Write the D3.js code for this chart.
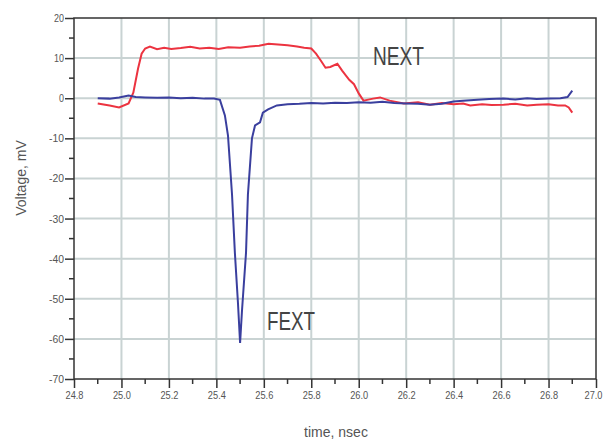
<!DOCTYPE html>
<html>
<head>
<meta charset="utf-8">
<script src="https://cdn.jsdelivr.net/npm/d3@7"></script>
<style>
  body { margin: 0; background: #fff; }
  svg { display: block; }
  .tick text { font-family: "Liberation Sans", Arial, sans-serif; fill: #555; }
</style>
</head>
<body>
<svg id="chart" width="606" height="443"></svg>
<script>
// NEXT (red) trace
var nextTime = [24.90, 24.95, 24.99, 25.03, 25.05, 25.07, 25.085, 25.10, 25.12, 25.15, 25.18, 25.21, 25.25, 25.29, 25.33, 25.37, 25.41, 25.45, 25.50, 25.54, 25.58, 25.62, 25.66, 25.70, 25.74, 25.77, 25.80, 25.82, 25.84, 25.86, 25.88, 25.91, 25.93, 25.96, 25.98, 26.00, 26.02, 26.06, 26.09, 26.13, 26.19, 26.25, 26.30, 26.35, 26.40, 26.44, 26.47, 26.52, 26.56, 26.61, 26.66, 26.71, 26.75, 26.80, 26.84, 26.87, 26.885, 26.90];
var nextVolt = [-1.3, -1.8, -2.3, -1.3, 1.4, 7.4, 11.1, 12.4, 12.9, 12.2, 12.6, 12.3, 12.5, 12.8, 12.4, 12.6, 12.3, 12.7, 12.6, 12.9, 13.1, 13.6, 13.4, 13.2, 12.9, 12.6, 12.4, 11.1, 9.4, 7.6, 7.8, 8.6, 6.9, 4.6, 3.5, 1.2, -0.6, -0.1, 0.2, -0.6, -1.3, -1.0, -1.6, -1.2, -1.5, -1.3, -1.8, -1.5, -1.7, -1.6, -1.4, -1.8, -1.6, -1.5, -1.8, -1.8, -2.3, -3.6];

// FEXT (blue) trace
var fextTime = [24.90, 24.95, 24.99, 25.03, 25.06, 25.10, 25.15, 25.20, 25.25, 25.30, 25.35, 25.39, 25.415, 25.436, 25.449, 25.466, 25.478, 25.491, 25.50, 25.508, 25.525, 25.533, 25.55, 25.563, 25.584, 25.596, 25.618, 25.655, 25.70, 25.75, 25.80, 25.85, 25.90, 25.95, 26.00, 26.05, 26.10, 26.15, 26.20, 26.25, 26.30, 26.35, 26.40, 26.44, 26.50, 26.55, 26.61, 26.66, 26.71, 26.75, 26.80, 26.85, 26.88, 26.90];
var fextVolt = [0, -0.1, 0.2, 0.7, 0.3, 0.2, 0.1, 0.2, 0.0, 0.1, -0.1, -0.1, -0.4, -4.3, -9.3, -24, -38.5, -51, -61, -53, -38.5, -24, -10, -6.8, -6.0, -3.6, -2.8, -1.8, -1.5, -1.4, -1.2, -1.3, -1.1, -1.2, -1.0, -1.1, -0.9, -1.2, -1.3, -1.4, -1.6, -1.4, -0.8, -0.6, -0.4, -0.2, -0.1, -0.3, 0, -0.2, -0.1, 0, 0.3, 1.9];

var xTicks = [24.8, 25.0, 25.2, 25.4, 25.6, 25.8, 26.0, 26.2, 26.4, 26.6, 26.8, 27.0];
var xMinor = [24.9, 25.1, 25.3, 25.5, 25.7, 25.9, 26.1, 26.3, 26.5, 26.7, 26.9];
var yTicks = [20, 10, 0, -10, -20, -30, -40, -50, -60, -70];
var yMinor = [15, 5, -5, -15, -25, -35, -45, -55, -65];

var margin = {left: 74, right: 10, top: 18, bottom: 64};
var svg = d3.select('#chart');
var W = +svg.attr('width'), H = +svg.attr('height');

var x = d3.scaleLinear().domain([24.8, 27.0]).range([margin.left, W - margin.right]);
var y = d3.scaleLinear().domain([-70, 20]).range([H - margin.bottom, margin.top]);

// grid
svg.append('g').selectAll('line').data(xTicks.slice(1, -1)).join('line')
  .attr('x1', d => x(d)).attr('x2', d => x(d))
  .attr('y1', y(20)).attr('y2', y(-70))
  .attr('stroke', '#c9d3d3').attr('stroke-width', 2);
svg.append('g').selectAll('line').data(yTicks.slice(1, -1)).join('line')
  .attr('y1', d => y(d)).attr('y2', d => y(d))
  .attr('x1', x(24.8)).attr('x2', x(27.0))
  .attr('stroke', '#c9d3d3').attr('stroke-width', 2);

// frame
svg.append('rect')
  .attr('x', x(24.8)).attr('y', y(20))
  .attr('width', x(27.0) - x(24.8)).attr('height', y(-70) - y(20))
  .attr('fill', 'none').attr('stroke', '#333').attr('stroke-width', 1.5);

// axes (plain hyphen minus, squeezed labels like the scope printout)
var xAxis = svg.append('g').attr('transform', 'translate(0,' + y(-70) + ')')
  .call(d3.axisBottom(x).tickValues(xTicks).tickFormat(d => d.toFixed(1)).tickSize(9).tickPadding(3));
xAxis.append('g').selectAll('line').data(xMinor).join('line')
  .attr('x1', d => x(d)).attr('x2', d => x(d)).attr('y1', 0).attr('y2', 5)
  .attr('stroke', '#333').attr('stroke-width', 1.5);
xAxis.selectAll('.tick text').attr('textLength', 18).attr('lengthAdjust', 'spacingAndGlyphs');
// last label sits against the right edge; anchor it at its end so it stays inside
xAxis.selectAll('.tick text').filter(d => d === 27.0)
  .attr('text-anchor', 'end').attr('x', 6);

var yAxis = svg.append('g').attr('transform', 'translate(' + x(24.8) + ',0)')
  .call(d3.axisLeft(y).tickValues(yTicks).tickFormat(d => String(d)).tickSize(9).tickPadding(1));
yAxis.append('g').selectAll('line').data(yMinor).join('line')
  .attr('y1', d => y(d)).attr('y2', d => y(d)).attr('x1', 0).attr('x2', -5)
  .attr('stroke', '#333').attr('stroke-width', 1.5);
yAxis.selectAll('.tick text')
  .attr('textLength', d => String(d).length * 5)
  .attr('lengthAdjust', 'spacingAndGlyphs');

svg.selectAll('.domain').remove();
svg.selectAll('.tick line').attr('stroke', '#333').attr('stroke-width', 1.5);
svg.selectAll('.tick text').attr('font-size', 11);

// traces
var line = d3.line().x(d => x(d[0])).y(d => y(d[1]));
svg.append('path').datum(d3.zip(nextTime, nextVolt))
  .attr('d', line).attr('fill', 'none')
  .attr('stroke', '#ec3340').attr('stroke-width', 2);
svg.append('path').datum(d3.zip(fextTime, fextVolt))
  .attr('d', line).attr('fill', 'none')
  .attr('stroke', '#3a3f9e').attr('stroke-width', 2);

// labels
svg.append('text').attr('x', 373).attr('y', 65).text('NEXT')
  .attr('font-family', 'Liberation Sans, sans-serif').attr('font-size', 26)
  .attr('textLength', 51).attr('lengthAdjust', 'spacingAndGlyphs').attr('fill', '#444');
svg.append('text').attr('x', 267).attr('y', 330).text('FEXT')
  .attr('font-family', 'Liberation Sans, sans-serif').attr('font-size', 26)
  .attr('textLength', 48).attr('lengthAdjust', 'spacingAndGlyphs').attr('fill', '#444');

svg.append('text')
  .attr('transform', 'translate(26,178) rotate(-90)')
  .attr('text-anchor', 'middle')
  .attr('font-family', 'Liberation Sans, sans-serif').attr('font-size', 14)
  .attr('fill', '#555').text('Voltage, mV');
svg.append('text')
  .attr('x', 336).attr('y', 437).attr('text-anchor', 'middle')
  .attr('font-family', 'Liberation Sans, sans-serif').attr('font-size', 14)
  .attr('fill', '#555').text('time, nsec');
</script>
</body>
</html>
